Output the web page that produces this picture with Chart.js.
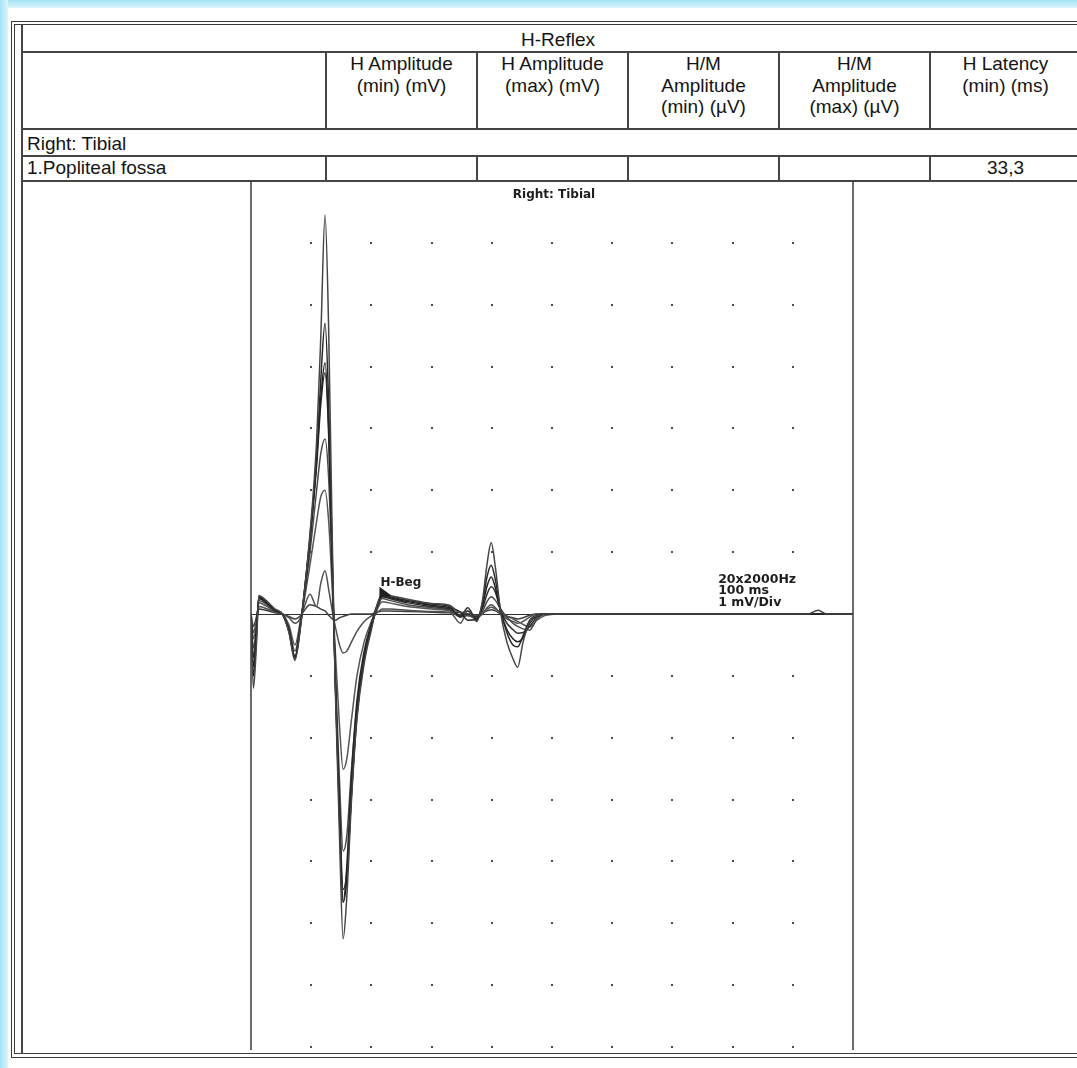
<!DOCTYPE html>
<html>
<head>
<meta charset="utf-8">
<title>H-Reflex – Right: Tibial</title>
<script src="https://cdn.jsdelivr.net/npm/chart.js@4.4.1/dist/chart.umd.min.js"></script>
<style>
  html, body { margin: 0; padding: 0; background: #fff; }
  body {
    width: 1077px; height: 1068px; position: relative; overflow: hidden;
    font-family: "Liberation Sans", Arial, sans-serif; color: #141414;
  }
  .edge-top { position: absolute; left: 0; top: 0; width: 1077px; height: 8px; background: linear-gradient(#a4e3f6, #dcf5fc); }
  .edge-left { position: absolute; left: 0; top: 0; width: 8px; height: 1068px; background: linear-gradient(90deg, #a4e3f6, #dcf5fc); }
  .hl { position: absolute; height: 0; border-top: 2px solid #454545; }
  .vl { position: absolute; width: 0; border-left: 2px solid #454545; }
  .thin { border-color: #3a3a3a; border-width: 1px; }
  .cell { position: absolute; text-align: center; font-size: 19px; line-height: 21.5px; white-space: nowrap; }
  .txt { position: absolute; font-size: 19px; line-height: 21.5px; white-space: nowrap; }
  #plot-wrap { position: absolute; left: 246px; top: 181px; width: 612px; height: 872px; }
</style>
</head>
<body>
<div class="edge-top"></div>
<div class="edge-left"></div>

<!-- outer double frame -->
<div class="hl thin" style="left:11px;top:21px;width:1066px"></div>
<div class="hl thin" style="left:14px;top:24px;width:1063px"></div>
<div class="hl thin" style="left:14px;top:1053px;width:1063px"></div>
<div class="hl thin" style="left:11px;top:1057px;width:1066px"></div>
<div class="vl thin" style="left:11px;top:21px;height:1037px"></div>
<div class="vl thin" style="left:14px;top:24px;height:1030px"></div>

<!-- table rules -->
<div class="vl" style="left:21px;top:24px;height:1030px"></div>
<div class="hl" style="left:21px;top:51px;width:1056px"></div>
<div class="hl" style="left:21px;top:128px;width:1056px"></div>
<div class="hl" style="left:21px;top:155px;width:1056px"></div>
<div class="hl" style="left:21px;top:180px;width:1056px"></div>
<div class="vl" style="left:325px;top:51px;height:78px"></div>
<div class="vl" style="left:476px;top:51px;height:78px"></div>
<div class="vl" style="left:627px;top:51px;height:78px"></div>
<div class="vl" style="left:778px;top:51px;height:78px"></div>
<div class="vl" style="left:929px;top:51px;height:78px"></div>
<div class="vl" style="left:325px;top:155px;height:26px"></div>
<div class="vl" style="left:476px;top:155px;height:26px"></div>
<div class="vl" style="left:627px;top:155px;height:26px"></div>
<div class="vl" style="left:778px;top:155px;height:26px"></div>
<div class="vl" style="left:929px;top:155px;height:26px"></div>

<!-- table text -->
<div class="cell" style="left:22px;top:29px;width:1072px">H-Reflex</div>
<div class="cell" style="left:326px;top:53px;width:151px">H Amplitude<br>(min) (mV)</div>
<div class="cell" style="left:477px;top:53px;width:151px">H Amplitude<br>(max) (mV)</div>
<div class="cell" style="left:628px;top:53px;width:151px">H/M<br>Amplitude<br>(min) (µV)</div>
<div class="cell" style="left:779px;top:53px;width:151px">H/M<br>Amplitude<br>(max) (µV)</div>
<div class="cell" style="left:930px;top:53px;width:151px">H Latency<br>(min) (ms)</div>
<div class="txt" style="left:27px;top:133px">Right: Tibial</div>
<div class="txt" style="left:27px;top:157px">1.Popliteal fossa</div>
<div class="cell" style="left:930px;top:157px;width:151px">33,3</div>

<div id="plot-wrap"><canvas id="hReflexChart" width="612" height="872"></canvas></div>

<script>
// Sweep time base (ms), 10 ms per division, 100 ms sweep
const TIME_MS = [0, 0.4, 0.9, 1.3, 2.5, 4.0, 5.2, 6.3, 7.3,
  8.3, 8.8, 9.8, 10.9, 11.6, 12.3, 12.9, 13.5, 14.0, 14.7, 15.3,
  15.9, 16.7, 17.6, 18.8, 20.0, 20.7, 21.8, 23, 26, 30, 33,
  34.8, 36, 37.5, 38.5, 39.2, 39.9, 40.6, 41.5, 42.5, 43.5, 44.3, 45.2, 46.3, 47.5,
  49, 52, 70, 92.5, 94.2, 95.6, 97, 100];

// Superimposed sweeps (mV)
const TRACE_1 = [0, -1.2, -0.5, 0.30, 0.22, 0.08, 0.0, -0.3, -0.75,
  -0.15, 0.3, 1.3, 2.8, 4.5, 6.45, 4.6, 1.2, -1.2, -3.6, -5.25,
  -4.6, -3.0, -1.7, -0.8, -0.25, 0.05, 0.33, 0.3, 0.24, 0.17, 0.14,
  0.02, 0.05, -0.12, 0.25, 0.8, 1.15, 0.75, 0.0, -0.45, -0.72, -0.86, -0.45, -0.12, -0.03,
  0, 0, 0, 0, 0.06, 0, 0, 0];
const TRACE_2 = [0, -1.0, -0.4, 0.28, 0.2, 0.07, 0, -0.28, -0.72,
  -0.14, 0.28, 1.2, 2.5, 3.8, 4.7, 3.4, 0.9, -1.1, -3.2, -4.66,
  -4.1, -2.6, -1.4, -0.6, -0.15, 0.08, 0.31, 0.28, 0.22, 0.16, 0.12,
  -0.05, 0.1, -0.1, 0.2, 0.6, 0.79, 0.55, 0.05, -0.3, -0.5, -0.53, -0.35, -0.1, -0.02,
  0, 0, 0, 0, 0, 0, 0, 0];
const TRACE_3 = [0, -0.85, -0.3, 0.26, 0.19, 0.06, 0, -0.27, -0.7,
  -0.12, 0.3, 1.25, 2.5, 3.5, 4.06, 3.0, 0.8, -1.1, -3.3, -4.66,
  -4.3, -2.9, -1.6, -0.7, -0.2, 0.05, 0.3, 0.27, 0.2, 0.14, 0.1,
  0.03, -0.1, -0.08, 0.15, 0.45, 0.6, 0.42, 0.02, -0.25, -0.4, -0.45, -0.38, -0.15, -0.03,
  0, 0, 0, 0, 0, 0, 0, 0];
const TRACE_4 = [0, -0.7, -0.25, 0.25, 0.18, 0.05, 0, -0.25, -0.68,
  -0.1, 0.3, 1.2, 2.4, 3.4, 3.9, 2.9, 0.8, -1.0, -3.1, -4.45,
  -4.2, -2.9, -1.65, -0.75, -0.22, 0.04, 0.28, 0.25, 0.18, 0.12, 0.08,
  -0.02, 0.0, -0.05, 0.1, 0.32, 0.44, 0.35, 0.05, -0.15, -0.25, -0.31, -0.3, -0.2, -0.05,
  0, 0, 0, 0, 0, 0, 0, 0];
const TRACE_5 = [0, -0.55, -0.2, 0.22, 0.16, 0.05, 0, -0.22, -0.6,
  -0.08, 0.25, 1.0, 2.0, 2.6, 2.83, 2.2, 0.6, -0.9, -2.7, -3.83,
  -3.6, -2.5, -1.5, -0.7, -0.2, 0.02, 0.25, 0.22, 0.15, 0.1, 0.06,
  -0.05, -0.02, -0.08, 0.05, 0.2, 0.28, 0.22, 0.08, -0.05, -0.15, -0.2, -0.24, -0.26, -0.08,
  0, 0, 0, 0, 0, 0, 0, 0];
const TRACE_6 = [0, -0.4, -0.15, 0.18, 0.13, 0.04, 0, -0.18, -0.5,
  -0.06, 0.2, 0.8, 1.5, 1.9, 2.0, 1.5, 0.4, -0.6, -1.8, -2.51,
  -2.35, -1.7, -1.0, -0.45, -0.12, 0.02, 0.2, 0.18, 0.12, 0.08, 0.05,
  -0.02, -0.03, -0.05, 0.02, 0.08, 0.11, 0.08, 0.03, -0.03, -0.08, -0.12, -0.17, -0.21, -0.1,
  -0.02, 0, 0, 0, 0, 0, 0, 0];
const TRACE_7 = [0, -0.3, -0.1, 0.12, 0.09, 0.03, 0, -0.06, -0.15,
  -0.05, 0.1, 0.32, 0.12, 0.5, 0.7, 0.4, 0.05, -0.2, -0.5, -0.63,
  -0.6, -0.45, -0.28, -0.12, -0.03, 0.0, 0.08, 0.08, 0.06, 0.04, 0.03,
  -0.15, 0.05, -0.05, 0.0, 0.1, 0.15, 0.1, 0.0, -0.08, -0.12, -0.15, -0.12, -0.05, 0,
  0, 0, 0, 0, 0, 0, 0, 0];
const TRACE_8 = [0, -0.2, -0.05, 0.08, 0.06, 0.02, 0, -0.04, -0.08,
  -0.02, 0.05, 0.15, 0.12, 0.08, 0.05, -0.02, -0.08, -0.1, -0.06, -0.04,
  -0.02, 0, 0, 0, 0, 0.02, 0.05, 0.05, 0.04, 0.03, 0.02,
  0.03, 0.0, -0.02, 0.02, 0.05, 0.07, 0.05, 0, -0.04, -0.06, -0.08, -0.06, -0.02, 0,
  0, 0, 0, 0, 0, 0, 0, 0];

const TRACES = [TRACE_1, TRACE_2, TRACE_3, TRACE_4, TRACE_5, TRACE_6, TRACE_7, TRACE_8];
const TRACE_COLORS = ['#444444', '#262626', '#222222', '#303030', '#4a4a4a', '#555555', '#505050', '#404040'];

// Dotted grid: one dot per division
const GRID_TIME_MS = [10, 20, 30, 40, 50, 60, 70, 80, 90];
const GRID_MV = [-7, -6, -5, -4, -3, -2, -1, 1, 2, 3, 4, 5, 6];

// Annotations
const PLOT_TITLE = 'Right: Tibial';
const H_BEG_MS = 21.5;
const H_BEG_LABEL = 'H-Beg';
const SETTINGS_MS = 77.6;
const SETTINGS_LINES = ['20x2000Hz', '100 ms', '1 mV/Div'];
const SETTINGS_MV = [0.5, 0.32, 0.13];

/**
 * Draws the dotted grid, frame lines, baseline and the text marks of the EMG window
 */
const emgOverlay = {
  id: 'emgOverlay',
  beforeDatasetsDraw(chart) {
    const { ctx, chartArea, scales: { x, y } } = chart;
    ctx.save();

    // grid dots
    ctx.fillStyle = '#4d4d4d';
    GRID_TIME_MS.forEach(t => {
      GRID_MV.forEach(v => {
        const px = Math.round(x.getPixelForValue(t));
        const py = Math.round(y.getPixelForValue(v));
        ctx.fillRect(px - 1, py - 1, 2, 2);
      });
    });

    // window side lines
    ctx.strokeStyle = '#3a3a3a';
    ctx.lineWidth = 1.5;
    [chartArea.left, chartArea.right].forEach(px => {
      ctx.beginPath();
      ctx.moveTo(px, 0);
      ctx.lineTo(px, chartArea.bottom + 3);
      ctx.stroke();
    });

    // zero line
    const y0 = Math.round(y.getPixelForValue(0)) + 0.5;
    ctx.lineWidth = 1;
    ctx.strokeStyle = '#2e2e2e';
    ctx.beginPath();
    ctx.moveTo(chartArea.left, y0);
    ctx.lineTo(chartArea.right, y0);
    ctx.stroke();
    ctx.restore();
  },
  afterDatasetsDraw(chart) {
    const { ctx, chartArea, scales: { x, y } } = chart;
    ctx.save();
    ctx.fillStyle = '#1e1e1e';

    // window title
    ctx.font = 'bold 12px "DejaVu Sans", sans-serif';
    ctx.textAlign = 'center';
    ctx.textBaseline = 'alphabetic';
    ctx.fillText(PLOT_TITLE, (chartArea.left + chartArea.right) / 2 + 2, chartArea.top + 17);

    // H-Beg cursor flag
    const hx = x.getPixelForValue(H_BEG_MS);
    ctx.beginPath();
    ctx.moveTo(hx - 1, y.getPixelForValue(0.44));
    ctx.lineTo(hx - 1, y.getPixelForValue(0.26));
    ctx.lineTo(hx + 11, y.getPixelForValue(0.3));
    ctx.closePath();
    ctx.fill();
    ctx.textAlign = 'left';
    ctx.fillText(H_BEG_LABEL, hx, y.getPixelForValue(0.44) - 1);

    // acquisition settings
    ctx.font = 'bold 12.5px "DejaVu Sans", sans-serif';
    const sx = x.getPixelForValue(SETTINGS_MS);
    SETTINGS_LINES.forEach((line, i) => {
      ctx.fillText(line, sx, y.getPixelForValue(SETTINGS_MV[i]));
    });
    ctx.restore();
  }
};

/**
 * Build the superimposed sweeps
 */
function buildDatasets() {
  return TRACES.map((trace, i) => {
    if (trace.length !== TIME_MS.length) {
      console.warn(`Trace ${i + 1} has ${trace.length} points, expected ${TIME_MS.length}`);
    }
    return {
      label: `Sweep ${i + 1}`,
      data: TIME_MS.map((t, k) => ({ x: t, y: trace[k] })),
      borderColor: TRACE_COLORS[i],
      borderWidth: 1.5,
      pointRadius: 0,
      fill: false,
      cubicInterpolationMode: 'monotone'
    };
  });
}

function renderHReflexChart() {
  const canvas = document.getElementById('hReflexChart');
  if (!canvas) {
    console.error('H-reflex canvas not found');
    return;
  }
  const ctx = canvas.getContext('2d');

  new Chart(ctx, {
    type: 'line',
    data: { datasets: buildDatasets() },
    options: {
      responsive: false,
      animation: false,
      layout: { padding: { left: 5, right: 5, top: 0, bottom: 6 } },
      plugins: {
        legend: { display: false },
        tooltip: { enabled: false },
        title: { display: false }
      },
      scales: {
        x: { type: 'linear', min: 0, max: 100, display: false },
        y: { type: 'linear', min: -7, max: 7, display: false }
      }
    },
    plugins: [emgOverlay]
  });
}

if (document.readyState === 'loading') {
  document.addEventListener('DOMContentLoaded', renderHReflexChart);
} else {
  renderHReflexChart();
}
</script>
</body>
</html>
